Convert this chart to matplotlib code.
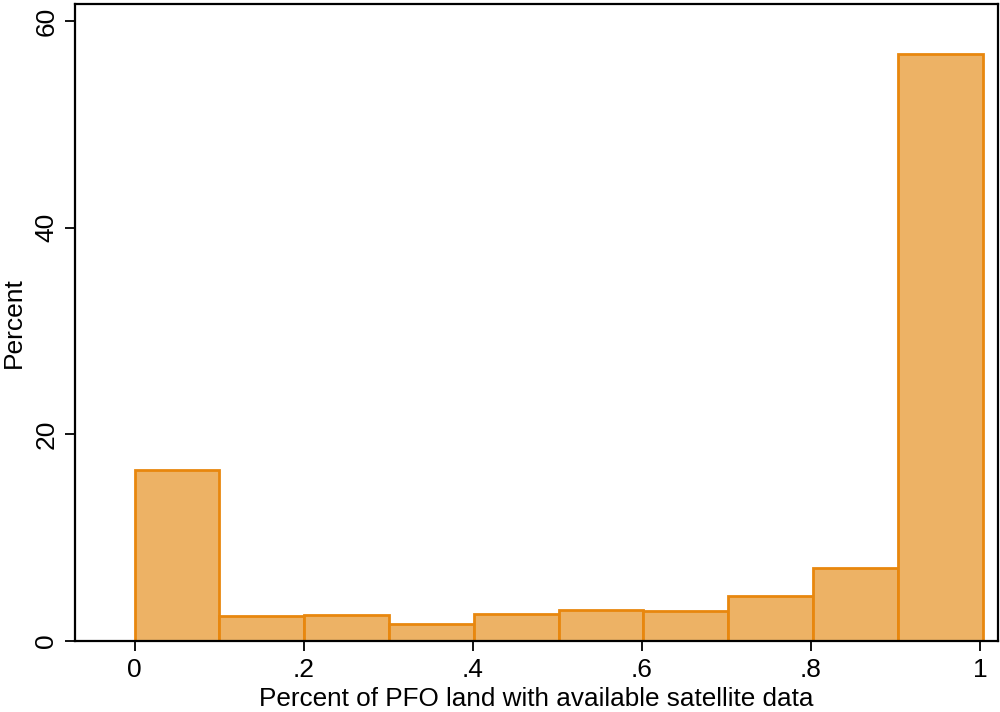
import matplotlib
matplotlib.use("Agg")
import matplotlib.pyplot as plt
import numpy as np

bin_edges = [0.0, 0.1003, 0.2006, 0.3009, 0.4012, 0.5015, 0.6018, 0.7021, 0.8024, 0.9027, 1.003]
percents = [16.6, 2.45, 2.55, 1.6, 2.6, 3.03, 2.93, 4.36, 7.04, 56.8]
x_ticks = [0, 0.2, 0.4, 0.6, 0.8, 1.0]
x_tick_labels = ["0", ".2", ".4", ".6", ".8", "1"]
y_ticks = [0, 20, 40, 60]
y_tick_labels = ["0", "20", "40", "60"]

plt.rcParams['font.family'] = ['Liberation Sans', 'DejaVu Sans']

fig = plt.figure(figsize=(10, 7.12), dpi=100)
ax = fig.add_axes([0.075, 0.0997, 0.923, 0.8947])

lefts = np.array(bin_edges[:-1])
widths = np.diff(bin_edges)
ax.bar(lefts, percents, width=widths, align='edge', color='#EDB265',
       edgecolor='#E8870E', linewidth=2.0, zorder=2)

ax.set_xlim(-0.0706, 1.0213)
ax.set_ylim(0, 61.66)
ax.set_xticks(x_ticks)
ax.set_xticklabels(x_tick_labels)
ax.set_yticks(y_ticks)
ax.set_yticklabels(y_tick_labels, rotation=90, va='center')
ax.tick_params(axis='both', direction='out', length=7, width=1.3, labelsize=19,
               colors='black', pad=5)
for s in ax.spines.values():
    s.set_linewidth(1.6)
    s.set_color('black')
ax.set_xlabel("Percent of PFO land with available satellite data", fontsize=18.8, labelpad=4)
ax.set_ylabel("Percent", fontsize=19, labelpad=6)

fig.savefig("out.png", dpi=100)
